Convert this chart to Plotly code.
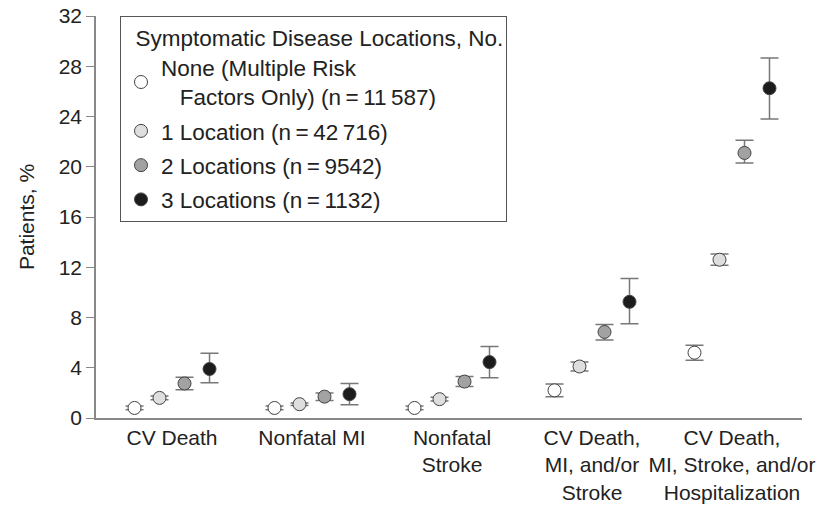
import plotly.graph_objects as go

categories = ["CV Death", "Nonfatal MI", "Nonfatal<br>Stroke",
              "CV Death,<br>MI, and/or<br>Stroke",
              "CV Death,<br>MI, Stroke, and/or<br>Hospitalization"]

series_names = [
    "None (Multiple Risk<br>\u00a0\u00a0\u00a0Factors Only) (n\u2009=\u200911\u2009587)",
    "1 Location (n\u2009=\u200942\u2009716)",
    "2 Locations (n\u2009=\u20099542)",
    "3 Locations (n\u2009=\u20091132)",
]
legend_title = "\u00a0\u00a0Symptomatic Disease Locations, No."

none_vals = [0.8, 0.8, 0.8, 2.2, 5.2]
none_err_plus = [0.15, 0.15, 0.15, 0.5, 0.6]
none_err_minus = [0.15, 0.15, 0.15, 0.5, 0.6]

loc1_vals = [1.6, 1.1, 1.5, 4.1, 12.6]
loc1_err_plus = [0.15, 0.1, 0.15, 0.35, 0.45]
loc1_err_minus = [0.15, 0.1, 0.15, 0.35, 0.45]

loc2_vals = [2.75, 1.7, 2.9, 6.85, 21.1]
loc2_err_plus = [0.5, 0.3, 0.4, 0.6, 1.0]
loc2_err_minus = [0.5, 0.3, 0.4, 0.65, 0.8]

loc3_vals = [3.9, 1.9, 4.45, 9.25, 26.25]
loc3_err_plus = [1.25, 0.85, 1.25, 1.85, 2.4]
loc3_err_minus = [1.1, 0.85, 1.25, 1.75, 2.45]

y_ticks = [0, 4, 8, 12, 16, 20, 24, 28, 32]

fills = ["#ffffff", "#dedede", "#a2a2a2", "#1c1c1c"]
values = [none_vals, loc1_vals, loc2_vals, loc3_vals]
plus = [none_err_plus, loc1_err_plus, loc2_err_plus, loc3_err_plus]
minus = [none_err_minus, loc1_err_minus, loc2_err_minus, loc3_err_minus]

FONT = "Liberation Sans, Arial, Helvetica, sans-serif"
fig = go.Figure()
for i in range(4):
    fig.add_trace(go.Scatter(
        x=categories, y=values[i], name=series_names[i], mode="markers",
        legendgroup=f"g{i}",
        marker=dict(size=13, color=fills[i], line=dict(color="#444444", width=1)),
        error_y=dict(type="data", symmetric=False, array=plus[i], arrayminus=minus[i],
                     color="#777777", thickness=1.5, width=9),
    ))

fig.update_layout(
    width=824, height=513,
    margin=dict(l=96, r=22, t=16, b=95, autoexpand=False),
    paper_bgcolor="white", plot_bgcolor="white",
    font=dict(family=FONT, size=21, color="#222222"),
    scattermode="group", scattergap=0.2857,
    showlegend=True,
    legend=dict(
        x=0.034, y=1.0, xanchor="left", yanchor="top",
        bordercolor="#555555", borderwidth=1, bgcolor="white",
        title=dict(text=legend_title, font=dict(size=22.5)),
        font=dict(size=22.5), traceorder="grouped", tracegroupgap=2,
        itemsizing="trace",
    ),
    xaxis=dict(
        type="category", range=[-0.543, 4.5], showline=True, linecolor="#888888",
        linewidth=1.5, ticks="", showgrid=False, zeroline=False, tickangle=0,
        tickfont=dict(size=21), automargin=False,
    ),
    yaxis=dict(
        range=[0, 32], tickvals=y_ticks, showline=True, linecolor="#888888",
        linewidth=1.5, ticks="outside", ticklen=8, tickcolor="#888888",
        showgrid=False, zeroline=False, tickfont=dict(size=21), automargin=False,
        title=dict(text="Patients, %", font=dict(size=21), standoff=18),
    ),
)

fig.write_html("out.html", config={"displayModeBar": False},
               post_script="document.body.style.margin='0';document.body.style.overflow='hidden';")
